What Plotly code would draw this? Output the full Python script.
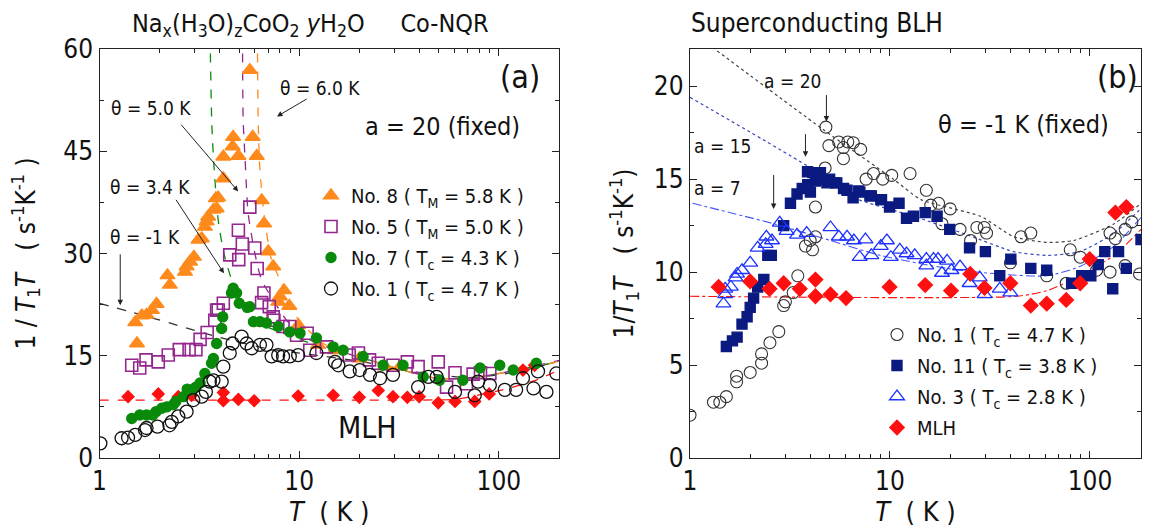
import math
import plotly.graph_objects as go

FONT = "Liberation Sans Narrow, Arial Narrow, DejaVu Sans Condensed, Arial, sans-serif"

# ---------------- panel (a): Co-NQR, a = 20 fixed ----------------
T_no8 = [1.51, 1.54, 1.63, 1.72, 1.83, 1.93, 2.19, 2.25, 2.68, 2.73, 2.84, 2.97, 3.13, 3.25, 3.37,
         3.44, 3.50, 3.72, 3.86, 3.83, 3.93, 4.17, 4.17, 4.64, 4.67, 4.96, 5.66, 5.85, 6.13, 6.49,
         6.67, 7.0, 7.41, 7.85, 8.0, 8.4, 8.92, 9.9, 12.4, 15.1, 20.0, 26.9, 32.0]
R_no8 = [19.9, 16.8, 20.9, 21.0, 21.7, 22.6, 26.8, 25.4, 27.3, 28.1, 28.8, 29.5, 32.0, 32.2, 33.9,
         34.7, 35.4, 36.4, 36.6, 38.1, 38.2, 41.0, 44.2, 45.7, 47.1, 44.3, 56.9, 47.1, 44.3, 37.8,
         34.4, 30.3, 28.1, 22.9, 23.7, 24.6, 22.3, 19.5, 16.6, 15.8, 14.6, 13.4, 13.4]

T_no5 = [1.45, 1.59, 1.71, 1.97, 2.21, 2.51, 2.81, 3.04, 3.19, 3.46, 3.78, 3.86, 3.93, 4.17, 4.49,
         4.98, 4.96, 5.19, 5.66, 5.99, 6.16, 6.66, 6.48, 7.08, 7.41, 7.47, 8.3, 8.97, 9.7, 10.96,
         11.3, 13.7, 17.8, 19.8, 22.5, 24.9, 29.5, 34.8, 39.4, 49.7, 54.7, 60.3, 68.8, 74.3, 80.9, 90.1]
R_no5 = [13.6, 13.2, 14.4, 14.1, 15.1, 15.9, 15.9, 15.9, 17.4, 18.4, 20.2, 21.7, 21.7, 22.7, 29.8,
         29.1, 33.4, 31.4, 36.8, 30.8, 27.8, 24.2, 22.8, 22.2, 20.7, 20.2, 19.3, 19.3, 18.0, 18.3,
         15.8, 16.3, 15.1, 15.4, 14.4, 13.9, 13.6, 14.1, 13.4, 14.1, 10.4, 12.5, 10.9, 12.3, 12.5, 12.4]

T_no7 = [1.45, 1.59, 1.72, 1.85, 1.92, 2.05, 2.17, 2.34, 2.41, 2.63, 2.75, 2.89, 3.04, 3.19, 3.37,
         3.64, 3.72, 3.86, 4.09, 4.14, 4.58, 4.67, 4.86, 5.01, 5.49, 5.66, 5.9, 6.36, 6.86, 7.85,
         8.97, 10.1, 12.2, 14.8, 16.6, 20.9, 26.3, 33.1, 41.8, 50.5, 66, 80.5, 101, 118, 154]
R_no7 = [5.8, 6.3, 6.3, 6.3, 6.8, 7.3, 7.5, 7.8, 8.3, 9.0, 10.1, 10.0, 10.4, 11.0, 12.4,
         13.9, 14.6, 16.8, 19.0, 20.7, 24.2, 24.9, 24.2, 22.7, 22.1, 22.2, 20.0, 20.0, 19.8, 19.3,
         18.5, 18.3, 17.6, 16.3, 15.8, 14.9, 13.6, 13.6, 11.9, 11.4, 11.4, 13.2, 13.6, 12.9, 13.9]

T_no1a = [1.01, 1.29, 1.39, 1.51, 1.69, 1.72, 1.95, 2.24, 2.30, 2.48, 2.73, 2.95, 3.25, 3.41, 3.57,
          3.72, 4.09, 4.17, 4.49, 4.64, 5.15, 5.46, 5.78, 6.36, 6.86, 7.28, 7.85, 8.3, 8.97, 9.88,
          12.2, 15.1, 15.7, 17.9, 20.1, 22.6, 25.4, 29.5, 39.4, 44.4, 48.8, 60.3, 75.7, 78.7, 90.1,
          107, 122, 132, 149, 157, 173, 194]
R_no1a = [2.15, 2.9, 3.0, 3.4, 4.1, 4.4, 4.6, 4.8, 5.3, 6.1, 6.8, 8.5, 9.0, 9.7, 11.2,
          11.4, 11.2, 13.4, 15.4, 16.8, 17.8, 16.8, 16.1, 16.6, 16.6, 14.9, 15.1, 14.9, 14.9, 15.1,
          15.4, 14.1, 13.6, 12.7, 12.9, 12.2, 11.7, 12.2, 10.4, 11.9, 11.9, 9.7, 9.2, 11.2, 10.7,
          10.0, 10.0, 11.7, 10.2, 12.7, 9.7, 12.4]

T_mlh_a = [1.39, 1.97, 2.48, 2.89, 4.17, 4.17, 4.96, 5.95, 9.88, 14.8, 20.0, 24.9, 29.5, 34.8,
           39.9, 49.7, 60.3, 75.7, 89.4, 132, 151]
R_mlh_a = [9.0, 9.4, 9.0, 9.2, 9.6, 8.4, 8.6, 8.4, 9.1, 9.2, 8.9, 9.9, 9.0, 8.9,
           9.0, 8.1, 8.3, 8.3, 9.4, 12.9, 13.6]

# fitted curves, panel (a)
T_fit_m1 = [1.0, 1.86, 3.86, 5.0, 7.0, 10.0, 20.0, 40.0, 70.0, 100.0, 150.0, 200.0]
R_fit_m1 = [22.7, 20.5, 17.8, 17.0, 16.0, 15.4, 14.2, 12.5, 11.8, 12.2, 13.2, 14.3]
T_fit_34 = [3.58, 3.65, 3.74, 3.93, 4.2, 4.67, 6.13, 8.3, 10.0, 14.0, 20.0, 33.0, 48.6, 71.6, 104, 194, 200]
R_fit_34 = [62, 49, 43, 34.9, 30, 25.6, 20, 18.3, 17.4, 16.0, 14.8, 12.9, 11.7, 11.7, 12.5, 14.1, 14.3]
T_fit_50 = [5.2, 5.24, 5.34, 5.55, 6.0, 6.49, 8.65, 10.5, 14.0, 20.0, 33.0, 48.6, 71.6, 104, 200]
R_fit_50 = [62, 49.6, 44.7, 35.9, 30, 26.1, 20.2, 17.8, 16.2, 14.8, 12.9, 11.7, 11.7, 12.5, 14.3]
T_fit_60 = [6.17, 6.24, 6.36, 6.72, 7.28, 8.3, 8.82, 10.5, 13.2, 20.0, 33.0, 48.6, 71.6, 104, 194, 200]
R_fit_60 = [62, 48.8, 42.2, 34.9, 29, 25.1, 22.4, 19.5, 16.8, 14.8, 12.9, 11.7, 11.7, 12.5, 14.1, 14.3]
T_fit_mlh_a = [1.0, 40.0, 60.0, 72.0, 104.0, 150.0, 200.0]
R_fit_mlh_a = [8.5, 8.5, 8.6, 9.0, 10.0, 11.3, 12.9]

# ---------------- panel (b): superconducting BLH, theta = -1 K fixed ----------------
T_no1b = [1.0, 1.31, 1.41, 1.52, 1.71, 1.71, 2.0, 2.28, 2.28, 2.51, 2.78, 2.94, 3.0, 3.28, 3.46,
          3.78, 3.99, 4.1, 4.24, 4.24, 4.74, 4.95, 4.78, 5.54, 6.15, 6.55, 7.13, 5.85, 5.85, 7.6,
          8.27, 9.2, 10.2, 12.6, 15.2, 16.0, 17.5, 20.0, 18.2, 22.4, 25.3, 27.2, 29.6, 30.4, 40.0,
          45.2, 50.6, 60.8, 79.7, 89.4, 76.1, 108, 126, 126, 134, 150, 150, 162, 177]
R_no1b = [2.3, 3.0, 3.0, 3.3, 4.1, 4.4, 4.6, 5.1, 5.6, 6.2, 6.8, 8.2, 8.4, 8.9, 9.8,
          11.4, 11.7, 11.2, 11.9, 13.5, 15.6, 16.8, 17.8, 17.0, 17.0, 16.96, 16.6, 16.7, 16.1, 15.0,
          15.3, 15.0, 15.2, 15.3, 14.4, 13.6, 13.7, 13.4, 12.6, 12.3, 11.7, 12.4, 12.4, 12.1, 10.5,
          11.9, 12.1, 9.8, 11.2, 10.8, 9.4, 10.1, 10.0, 12.1, 11.8, 10.35, 12.3, 12.7, 9.9]

T_no11 = [1.52, 1.63, 1.72, 1.82, 1.93, 2.0, 2.08, 2.18, 2.34, 2.45, 2.55, 2.94, 3.18, 3.43, 3.64,
          4.0, 3.88, 4.24, 3.87, 4.12, 4.31, 4.49, 4.99, 5.42, 6.1, 6.98, 7.94, 9.0, 4.84, 5.33,
          5.86, 6.54, 7.07, 8.07, 9.07, 9.95, 11.1, 12.1, 13.1, 15.0, 17.2, 19.9, 25.0, 30.0, 40.2,
          35.4, 50.6, 60.8, 81, 91, 101, 110, 118.6, 130, 139, 152, 180]
R_no11 = [6.0, 6.3, 6.5, 7.2, 7.6, 8.1, 8.6, 9.2, 9.6, 10.9, 10.9, 12.5, 13.7, 14.2, 14.5,
          14.3, 14.7, 14.9, 15.4, 15.35, 15.0, 15.35, 15.0, 14.8, 14.4, 14.36, 14.1, 13.9, 14.8, 14.8,
          14.5, 14.0, 14.3, 14.1, 13.9, 13.5, 13.7, 12.9, 13.0, 13.2, 13.0, 12.3, 11.3, 11.1, 10.7,
          9.8, 10.2, 10.1, 9.4, 9.8, 9.8, 10.4, 11.1, 9.1, 11.1, 10.2, 11.75]

T_no3 = [1.47, 1.5, 1.5, 1.6, 1.69, 1.72, 1.82, 2.0, 2.18, 2.39, 2.41, 2.57, 2.81, 3.04, 3.43,
         3.83, 5.04, 5.55, 6.1, 6.6, 7.54, 7.06, 8.07, 9.0, 9.65, 10.1, 11.2, 12.1, 13.3, 15.2,
         15.2, 16.5, 17.4, 19.3, 18.2, 20.3, 22.4, 25.0, 28.1, 29.7, 35.4, 40.0]
R_no3 = [8.3, 8.8, 9.1, 9.2, 9.7, 9.9, 10.1, 10.5, 11.3, 11.5, 11.9, 11.7, 12.65, 12.2, 12.0,
         12.1, 12.4, 11.9, 11.9, 11.7, 11.75, 10.8, 10.9, 11.4, 11.7, 10.8, 11.2, 11.0, 10.9, 10.7,
         10.35, 10.7, 10.7, 10.6, 9.95, 10.1, 10.3, 9.4, 9.7, 8.8, 9.1, 8.9]

T_mlh_b = [1.39, 2.0, 2.5, 2.94, 3.54, 4.24, 4.24, 5.04, 6.03, 9.95, 15.0, 20.2, 25.2, 29.7, 40.0,
           50.6, 60.8, 76.1, 89.4, 99.7, 134, 152]
R_mlh_b = [9.2, 9.5, 9.1, 9.4, 9.1, 9.6, 8.7, 8.8, 8.6, 9.2, 9.3, 9.0, 9.9, 9.15, 9.4,
           8.2, 8.3, 8.5, 9.4, 10.7, 13.2, 13.5]

# fitted curves, panel (b)
T_fit_a20 = [1.29, 4.59, 10.4, 14.3, 28.4, 41.6, 61.0, 83.0, 132.0, 200.0]
R_fit_a20 = [22.1, 17.7, 15.0, 13.9, 13.0, 11.9, 11.6, 11.7, 12.6, 14.1]
T_fit_a15 = [1.0, 3.87, 6.6, 13.2, 24.4, 41.6, 61.0, 89.0, 132.0, 200.0]
R_fit_a15 = [19.4, 15.7, 14.0, 13.0, 12.0, 11.1, 10.9, 11.1, 12.1, 13.9]
T_fit_a7 = [1.03, 2.62, 5.04, 8.95, 19.3, 34.4, 61.0, 89.0, 132.0, 200.0]
R_fit_a7 = [13.7, 12.6, 11.7, 10.9, 10.2, 9.9, 9.8, 10.3, 11.4, 13.5]
T_fit_mlh_b = [1.0, 43.0, 61.0, 89.0, 132.0, 200.0]
R_fit_mlh_b = [8.7, 8.7, 9.0, 9.8, 10.9, 12.8]

ORANGE = "#FF8A1C"
PURPLE = "#93278F"
GREEN = "#0A8A0A"
RED = "#FF1010"
NAVY = "#0A1A80"
BLUE = "#1E32FF"

fig = go.Figure()


def markers(x, y, xa, ya, name, symbol, size, color, lw=1.4, legend=None):
    fig.add_trace(go.Scatter(
        x=x, y=y, xaxis=xa, yaxis=ya, mode="markers", name=name,
        marker=dict(symbol=symbol, size=size, color=color, line=dict(color=color, width=lw)),
        showlegend=legend is not None, legend=legend or "legend",
        legendgroup=name,
    ))


def curve(x, y, xa, ya, color, dash, width=1.3):
    fig.add_trace(go.Scatter(
        x=x, y=y, xaxis=xa, yaxis=ya, mode="lines", showlegend=False, hoverinfo="skip",
        line=dict(color=color, dash=dash, width=width, shape="spline", smoothing=0.6),
    ))


# panel (a) curves
curve(T_fit_mlh_a, R_fit_mlh_a, "x", "y", RED, "dash")
curve(T_fit_m1, R_fit_m1, "x", "y", "#333333", "dash")
curve(T_fit_34, R_fit_34, "x", "y", GREEN, "dash")
curve(T_fit_50, R_fit_50, "x", "y", PURPLE, "dash")
curve(T_fit_60, R_fit_60, "x", "y", ORANGE, "dash")

# panel (a) data
markers(T_mlh_a, R_mlh_a, "x", "y", "MLH (a)", "diamond", 9, RED)
markers(T_no8, R_no8, "x", "y", "No. 8 ( T<sub>M</sub> = 5.8 K )", "triangle-up", 13, ORANGE, legend="legend")
markers(T_no5, R_no5, "x", "y", "No. 5 ( T<sub>M</sub> = 5.0 K )", "square-open", 12, PURPLE, lw=1.6, legend="legend")
markers(T_no7, R_no7, "x", "y", "No. 7 ( T<sub>c</sub> = 4.3 K )", "circle", 10, GREEN, legend="legend")
markers(T_no1a, R_no1a, "x", "y", "No. 1 ( T<sub>c</sub> = 4.7 K )", "circle-open", 13, "#111111", lw=1.3, legend="legend")

# panel (b) curves
curve(T_fit_mlh_b, R_fit_mlh_b, "x2", "y2", RED, "dashdot", 1.1)
curve(T_fit_a7, R_fit_a7, "x2", "y2", "#4455FF", "dashdot", 1.1)
curve(T_fit_a15, R_fit_a15, "x2", "y2", "#3344BB", "dot", 1.2)
curve(T_fit_a20, R_fit_a20, "x2", "y2", "#444444", "dot", 1.2)

# panel (b) data
markers(T_no1b, R_no1b, "x2", "y2", "No. 1 ( T<sub>c</sub> = 4.7 K )", "circle-open", 12, "#333333", lw=1.1, legend="legend2")
markers(T_no11, R_no11, "x2", "y2", "No. 11 ( T<sub>c</sub> = 3.8 K )", "square", 10, NAVY, legend="legend2")
markers(T_no3, R_no3, "x2", "y2", "No. 3 ( T<sub>c</sub> = 2.8 K )", "triangle-up-open", 13, BLUE, lw=1.3, legend="legend2")
markers(T_mlh_b, R_mlh_b, "x2", "y2", "MLH", "diamond", 11, RED, legend="legend2")

W, H = 1153, 527
dom_y = [1 - 458 / H, 1 - 49 / H]
minor_x = [2, 3, 4, 5, 6, 7, 8, 9, 20, 30, 40, 50, 60, 70, 80, 90, 200]

axis_common = dict(
    showline=True, linecolor="#222222", linewidth=1.4, mirror="ticks",
    ticks="inside", ticklen=7, tickwidth=1.2, tickcolor="#222222",
    showgrid=False, zeroline=False, automargin=False,
    tickfont=dict(family=FONT, size=26, color="#111111"),
)


def xaxis(domain, xmax, anchor):
    return dict(axis_common, type="log", domain=domain, anchor=anchor,
                range=[0, math.log10(xmax)], tickvals=[1, 10, 100], ticktext=["1", "10", "100"],
                minor=dict(ticks="inside", ticklen=4, tickwidth=1, tickcolor="#222222",
                           tickvals=minor_x, showgrid=False),
                title=dict(text="<i>T</i>  ( K )", font=dict(family=FONT, size=27, color="#111111"),
                           standoff=0))


fig.update_layout(
    width=W, height=H, margin=dict(l=0, r=0, t=0, b=0, autoexpand=False),
    paper_bgcolor="white", plot_bgcolor="white",
    font=dict(family=FONT, color="#111111"),
    xaxis=xaxis([99.5 / W, 559 / W], 200, "y"),
    xaxis2=xaxis([690 / W, 1141 / W], 180, "y2"),
    yaxis=dict(axis_common, domain=dom_y, anchor="x", range=[0, 60],
               tickvals=[0, 15, 30, 45, 60],
               minor=dict(ticks="inside", ticklen=4, tickwidth=1, tickcolor="#222222",
                          tickvals=[7.5, 22.5, 37.5, 52.5], showgrid=False),
               title=dict(text="1 / <i>T</i><sub>1</sub><i>T</i>   ( s<sup>-1</sup>K<sup>-1</sup> )",
                          font=dict(family=FONT, size=26, color="#111111"), standoff=20)),
    yaxis2=dict(axis_common, domain=dom_y, anchor="x2", range=[0, 22],
                tickvals=[0, 5, 10, 15, 20],
                minor=dict(ticks="inside", ticklen=4, tickwidth=1, tickcolor="#222222",
                           tickvals=[2.5, 7.5, 12.5, 17.5], showgrid=False),
                title=dict(text="1/<i>T</i><sub>1</sub><i>T</i>   ( s<sup>-1</sup>K<sup>-1</sup>)",
                           font=dict(family=FONT, size=26, color="#111111"), standoff=12)),
    legend=dict(x=311 / W, y=1 - 176 / H, xanchor="left", yanchor="top",
                bgcolor="rgba(0,0,0,0)", font=dict(family=FONT, size=20, color="#111111"),
                itemsizing="trace", tracegroupgap=2),
    legend2=dict(x=877 / W, y=1 - 315 / H, xanchor="left", yanchor="top",
                 bgcolor="rgba(0,0,0,0)", font=dict(family=FONT, size=20, color="#111111"),
                 itemsizing="trace", tracegroupgap=2),
)

lg = math.log10


def text(x, y, s, size, xref, yref, xanchor="center"):
    fig.add_annotation(x=x, y=y, xref=xref, yref=yref, text=s, showarrow=False,
                       xanchor=xanchor, yanchor="middle",
                       font=dict(family=FONT, size=size, color="#111111"))


def arrow(x0, y0, x1, y1, xr, yr):
    # arrow from (x0, y0) pointing at (x1, y1), data coordinates
    fig.add_annotation(x=lg(x1), y=y1, ax=lg(x0), ay=y0, xref=xr, yref=yr, axref=xr, ayref=yr,
                       text="", showarrow=True, arrowhead=2, arrowsize=1.1, arrowwidth=1,
                       arrowcolor="#222222")


# titles above the panels
text(310 / W, 1 - 25 / H,
     "Na<sub>x</sub>(H<sub>3</sub>O)<sub>z</sub>CoO<sub>2</sub> <i>y</i>H<sub>2</sub>O     Co-NQR",
     25, "paper", "paper")
text(689 / W, 1 - 23 / H, "Superconducting BLH", 26, "paper", "paper", xanchor="left")

# panel (a) labels
text(lg(127), 55.9, "(a)", 32, "x", "y")
text(lg(52), 48.6, "a = 20 (fixed)", 25, "x", "y")
text(lg(1.81), 51.3, "θ = 5.0 K", 19, "x", "y")
text(lg(12.7), 54.3, "θ = 6.0 K", 19, "x", "y")
text(lg(1.79), 39.8, "θ = 3.4 K", 19, "x", "y")
text(lg(1.69), 32.4, "θ = -1 K", 19, "x", "y")
text(lg(22.1), 4.5, "MLH", 30, "x", "y")
arrow(2.53, 49.1, 4.95, 39.1, "x", "y")
arrow(11.1, 52.8, 7.74, 50.1, "x", "y")
arrow(2.39, 38.1, 4.2, 27.1, "x", "y")
arrow(1.27, 30.1, 1.27, 22.4, "x", "y")

# panel (b) labels
text(lg(137), 20.5, "(b)", 32, "x2", "y2")
text(lg(46.5), 17.95, "θ = -1 K (fixed)", 25, "x2", "y2")
text(lg(3.25), 20.3, "a = 20", 19, "x2", "y2")
text(lg(1.45), 16.8, "a = 15", 19, "x2", "y2")
text(lg(1.37), 14.5, "a = 7", 19, "x2", "y2")
arrow(4.81, 19.6, 4.81, 18.1, "x2", "y2")
arrow(3.78, 17.5, 3.78, 16.2, "x2", "y2")
arrow(2.62, 15.3, 2.62, 13.4, "x2", "y2")

fig.write_html("out.html")
